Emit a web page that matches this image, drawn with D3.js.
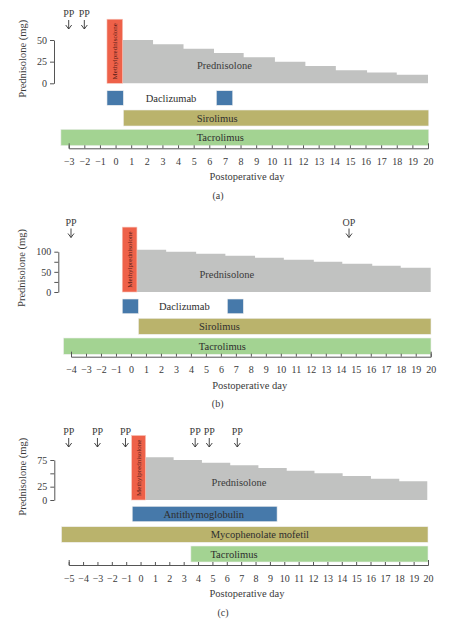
<!DOCTYPE html>
<html>
<head>
<meta charset="utf-8">
<script src="https://cdn.jsdelivr.net/npm/d3@7"></script>
<style>
  html, body { margin: 0; padding: 0; background: #fff; }
  svg text { font-family: "Liberation Serif", "DejaVu Serif", serif; fill: #3a3a3a; }
</style>
</head>
<body>
<svg id="chart" width="450" height="625"></svg>
<script>
// ---------- DATA ----------
// Panel (a)
const dayDomainA = [-3, 20];
const yTicksA = [0, 25, 50];
const yLabelsA = [0, 25, 50];
const yMaxA = 50;
const predStartA = [0.45, 2.4, 4.35, 6.3, 8.2, 10.2, 12.15, 14.1, 16.1, 18.0];
const predEndA = 20;
const predValA = [50, 45, 40, 35, 30, 25, 20, 15, 12.5, 10];
const methylStartA = -0.55, methylEndA = 0.45, methylValA = 74;
const drugNamesA = ["Daclizumab", "Sirolimus", "Tacrolimus"];
const drugIntervalsA = [[[-0.55, 0.5], [6.45, 7.5]], [[0.5, 20.05]], [[-3.5, 20.05]]];
const drugLabelDayA = [3.55, 6.5, 6.7];
const predLabelDayA = 6.97;
const markerLabelsA = ["PP", "PP"];
const markerDaysA = [-3, -2];

// Panel (b)
const dayDomainB = [-4, 20];
const yTicksB = [0, 25, 50, 75, 100];
const yLabelsB = [0, 50, 100];
const yMaxB = 100;
const predStartB = [0.4, 2.35, 4.35, 6.3, 8.28, 10.2, 12.2, 14.1, 16.1, 18.0];
const predEndB = 20;
const predValB = [105, 100, 95, 90, 85, 80, 75, 70, 65, 60];
const methylStartB = -0.58, methylEndB = 0.4, methylValB = 161;
const drugNamesB = ["Daclizumab", "Sirolimus", "Tacrolimus"];
const drugIntervalsB = [[[-0.58, 0.5], [6.43, 7.5]], [[0.5, 20.02]], [[-4.5, 20.02]]];
const drugLabelDayB = [3.56, 5.9, 6.1];
const predLabelDayB = 6.4;
const markerLabelsB = ["PP", "OP"];
const markerDaysB = [-4, 14.55];

// Panel (c)
const dayDomainC = [-5, 20];
const yTicksC = [0, 25, 50, 75];
const yLabelsC = [0, 25, 75];
const yMaxC = 75;
const predStartC = [0.35, 2.3, 4.27, 6.24, 8.2, 10.17, 12.1, 14.06, 16.03, 18.0];
const predEndC = 19.95;
const predValC = [80, 75, 70, 65, 60, 55, 50, 45, 40, 35];
const methylStartC = -0.62, methylEndC = 0.35, methylValC = 121;
const drugNamesC = ["Antithymoglobulin", "Mycophenolate mofetil", "Tacrolimus"];
const drugIntervalsC = [[[-0.58, 9.5]], [[-5.5, 20]], [[3.5, 20]]];
const drugLabelDayC = [4.4, 8.3, 6.5];
const predLabelDayC = 6.85;
const markerLabelsC = ["PP", "PP", "PP", "PP", "PP", "PP"];
const markerDaysC = [-5, -3, -1.05, 3.8, 4.78, 6.73];

// ---------- STYLE / LAYOUT ----------
const COLORS = {
  methyl: "#ee6149",
  pred: "#c1c2c1",
  blue: "#4679aa",
  olive: "#bab36c",
  green: "#a3d392",
  axis: "#555"
};

const panels = [
  {
    caption: "(a)", domain: dayDomainA, xRange: [68.7, 428],
    yTicks: yTicksA, yLabels: yLabelsA, yMax: yMaxA, yRange: [83.3, 40], yAxisX: 54,
    predStart: predStartA, predEnd: predEndA, predVal: predValA, predLabelDay: predLabelDayA,
    methyl: [methylStartA, methylEndA, methylValA],
    drugNames: drugNamesA, drugIntervals: drugIntervalsA, drugLabelDay: drugLabelDayA,
    drugColors: [COLORS.blue, COLORS.olive, COLORS.green],
    rows: [[90.7, 105.3], [110, 126], [129.3, 145.7]],
    markerLabels: markerLabelsA, markerDays: markerDaysA, markerY: 17,
    axisY: 148.3, titleY: 179.5, titleX: 247, captionY: 198.5, captionX: 218,
    yTitleX: 26, yTitleY: 58.7
  },
  {
    caption: "(b)", domain: dayDomainB, xRange: [71, 430.7],
    yTicks: yTicksB, yLabels: yLabelsB, yMax: yMaxB, yRange: [292, 251.7], yAxisX: 58.3,
    predStart: predStartB, predEnd: predEndB, predVal: predValB, predLabelDay: predLabelDayB,
    methyl: [methylStartB, methylEndB, methylValB],
    drugNames: drugNamesB, drugIntervals: drugIntervalsB, drugLabelDay: drugLabelDayB,
    drugColors: [COLORS.blue, COLORS.olive, COLORS.green],
    rows: [[299, 313.7], [318.3, 334.3], [338, 354.3]],
    markerLabels: markerLabelsB, markerDays: markerDaysB, markerY: 225.5,
    axisY: 356.7, titleY: 389, titleX: 249.7, captionY: 406.5, captionX: 217.7,
    yTitleX: 25, yTitleY: 268
  },
  {
    caption: "(c)", domain: dayDomainC, xRange: [68.7, 428],
    yTicks: yTicksC, yLabels: yLabelsC, yMax: yMaxC, yRange: [500, 460], yAxisX: 54.3,
    predStart: predStartC, predEnd: predEndC, predVal: predValC, predLabelDay: predLabelDayC,
    methyl: [methylStartC, methylEndC, methylValC],
    drugNames: drugNamesC, drugIntervals: drugIntervalsC, drugLabelDay: drugLabelDayC,
    drugColors: [COLORS.blue, COLORS.olive, COLORS.green],
    rows: [[506.3, 521.7], [526.7, 542.3], [546, 562]],
    markerLabels: markerLabelsC, markerDays: markerDaysC, markerY: 435,
    axisY: 565, titleY: 597, titleX: 247, captionY: 616, captionX: 223,
    yTitleX: 26, yTitleY: 476.7
  }
];

const svg = d3.select("#chart");

panels.forEach(p => {
  const g = svg.append("g");
  const x = d3.scaleLinear().domain(p.domain).range(p.xRange);
  const y = d3.scaleLinear().domain([0, p.yMax]).range(p.yRange);
  const y0 = y(0);

  // Prednisolone steps as one step area
  const pts = p.predStart.map((s, i) => ({ day: s, val: p.predVal[i] }));
  pts.push({ day: p.predEnd, val: p.predVal[p.predVal.length - 1] });
  const area = d3.area()
    .x(d => x(d.day)).y0(y0).y1(d => y(d.val))
    .curve(d3.curveStepAfter);
  g.append("path").datum(pts)
    .attr("d", area)
    .attr("fill", COLORS.pred);

  // Methylprednisolone
  const [ms, me, mv] = p.methyl;
  g.append("rect")
    .attr("x", x(ms)).attr("width", x(me) - x(ms))
    .attr("y", y(mv)).attr("height", y0 - y(mv))
    .attr("fill", COLORS.methyl)
    .attr("stroke", "#f7c3b8").attr("stroke-width", 0.6);
  g.append("text")
    .attr("transform", `translate(${(x(ms) + x(me)) / 2 + 2.4},${(y(mv) + y0) / 2}) rotate(-90)`)
    .attr("text-anchor", "middle")
    .style("font-size", "7px")
    .style("fill", "#5a2018")
    .text("Methylprednisolone");

  g.append("text")
    .attr("x", x(p.predLabelDay)).attr("y", y0 - 14)
    .attr("text-anchor", "middle")
    .style("font-size", "10.5px")
    .text("Prednisolone");

  // Drug bars
  p.drugNames.forEach((name, i) => {
    const [r0, r1] = p.rows[i];
    g.selectAll(null).data(p.drugIntervals[i]).enter().append("rect")
      .attr("x", d => x(d[0]))
      .attr("width", d => x(d[1]) - x(d[0]))
      .attr("y", r0).attr("height", r1 - r0)
      .attr("fill", p.drugColors[i])
      .attr("stroke", "#eeeeee").attr("stroke-width", 0.6);
    g.append("text")
      .attr("x", x(p.drugLabelDay[i]))
      .attr("y", (r0 + r1) / 2 + 3.6)
      .attr("text-anchor", "middle")
      .style("font-size", "10.5px")
      .style("fill", "#2e2e2e")
      .text(name);
  });

  // Markers (PP / OP)
  p.markerDays.forEach((d, i) => {
    const cx = x(d);
    g.append("text")
      .attr("x", cx).attr("y", p.markerY)
      .attr("text-anchor", "middle")
      .style("font-size", "10px")
      .text(p.markerLabels[i]);
    const top = p.markerY + 3, bot = p.markerY + 12;
    g.append("path")
      .attr("d", `M${cx},${top}V${bot}M${cx - 3},${bot - 4}L${cx},${bot}L${cx + 3},${bot - 4}`)
      .attr("fill", "none").attr("stroke", "#333").attr("stroke-width", 0.9);
  });

  // X axis
  const xAxis = d3.axisBottom(x)
    .tickValues(d3.range(p.domain[0], p.domain[1] + 1))
    .tickFormat(d => d < 0 ? "\u2212" + Math.abs(d) : String(d))
    .tickSizeInner(-3).tickSizeOuter(-5).tickPadding(9.5);
  const xa = g.append("g").attr("transform", `translate(0,${p.axisY})`).call(xAxis);
  xa.select(".domain").attr("stroke", COLORS.axis).attr("stroke-width", 1);
  xa.selectAll(".tick line").attr("stroke", COLORS.axis);
  xa.selectAll(".tick text").style("font-size", "10px")
    .style("font-family", "'Liberation Serif', serif").attr("fill", "#333");

  // Y axis
  const yAxis = d3.axisLeft(y)
    .tickValues(p.yTicks)
    .tickFormat(d => p.yLabels.includes(d) ? String(d) : "")
    .tickSizeInner(4).tickSizeOuter(0).tickPadding(3);
  const ya = g.append("g").attr("transform", `translate(${p.yAxisX},0)`).call(yAxis);
  ya.select(".domain").attr("stroke", COLORS.axis);
  ya.selectAll(".tick line").attr("stroke", COLORS.axis);
  ya.selectAll(".tick text").style("font-size", "10px")
    .style("font-family", "'Liberation Serif', serif").attr("fill", "#333");

  // Titles
  g.append("text")
    .attr("transform", `translate(${p.yTitleX},${p.yTitleY}) rotate(-90)`)
    .attr("text-anchor", "middle")
    .style("font-size", "10.5px")
    .text("Prednisolone (mg)");
  g.append("text")
    .attr("x", p.titleX).attr("y", p.titleY)
    .attr("text-anchor", "middle")
    .style("font-size", "10.5px")
    .text("Postoperative day");
  g.append("text")
    .attr("x", p.captionX).attr("y", p.captionY)
    .attr("text-anchor", "middle")
    .style("font-size", "10px")
    .text(p.caption);
});
</script>
</body>
</html>
